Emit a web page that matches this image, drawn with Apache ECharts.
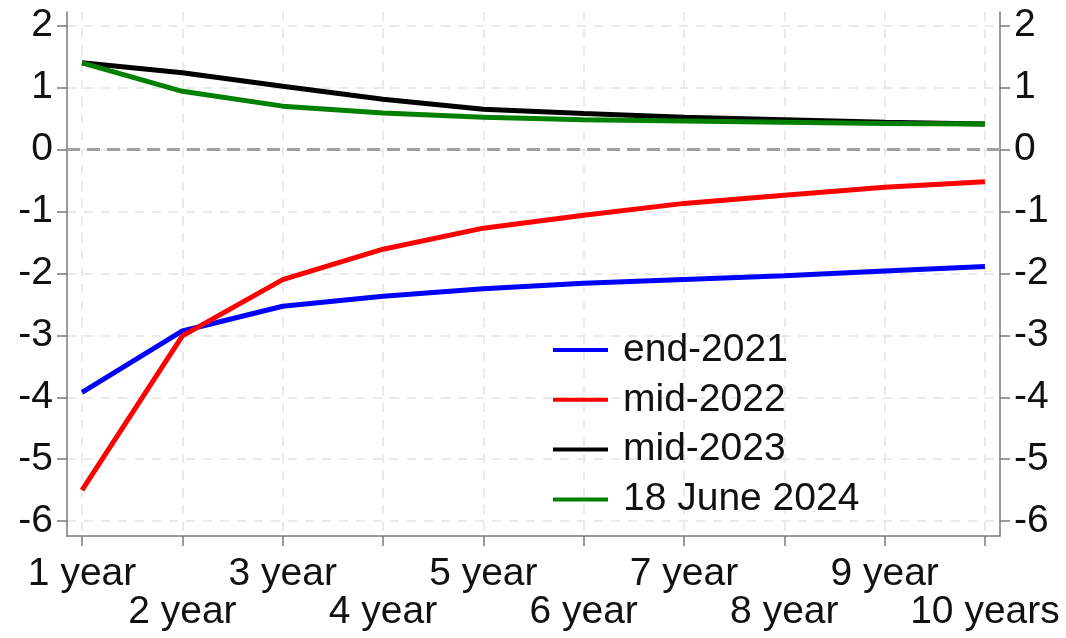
<!DOCTYPE html>
<html>
<head>
<meta charset="utf-8">
<script src="https://cdn.jsdelivr.net/npm/echarts@6/dist/echarts.min.js"></script>
<style>
  html, body { margin: 0; padding: 0; background: #fff; }
  #chart { width: 1066px; height: 638px; }
</style>
</head>
<body>
<div id="chart"></div>
<script>
// Maturities (years) and their axis labels
const maturities = [1, 2, 3, 4, 5, 6, 7, 8, 9, 10];
const maturityLabels = ['1 year', '2 year', '3 year', '4 year', '5 year',
                        '6 year', '7 year', '8 year', '9 year', '10 years'];
const yTicks = [-6, -5, -4, -3, -2, -1, 0, 1, 2];

// Curves, percentage points
const end2021 = [-3.92, -2.93, -2.53, -2.37, -2.25, -2.16, -2.10, -2.04, -1.96, -1.89];
const mid2022 = [-5.50, -3.01, -2.10, -1.61, -1.27, -1.06, -0.87, -0.74, -0.61, -0.52];
const mid2023 = [1.40, 1.24, 1.02, 0.81, 0.65, 0.58, 0.52, 0.48, 0.44, 0.41];
const june2024 = [1.40, 0.94, 0.70, 0.59, 0.52, 0.48, 0.46, 0.44, 0.42, 0.41];

const seriesNames = ['end-2021', 'mid-2022', 'mid-2023', '18 June 2024'];
const seriesColors = ['#0000ff', '#ff0000', '#000000', '#008000'];
const seriesData = [end2021, mid2022, mid2023, june2024];

const FONT = "'Liberation Sans', Arial, sans-serif";
const FS = 39;
const TXT = '#111111';
const AXIS_COL = '#7a7a7a';

const oddTicks = maturities.filter((m, i) => i % 2 === 0);
const evenTicks = maturities.filter((m, i) => i % 2 === 1);
const labelFor = v => maturityLabels[maturities.indexOf(Math.round(v))];

function xAxisDef(labelValues, margin, main) {
  return {
    type: 'value', gridIndex: 0, position: 'bottom',
    min: 0.85, max: 10.15,
    axisLine: { show: main, onZero: false, lineStyle: { color: AXIS_COL, width: 1.5 } },
    axisTick: { show: main, customValues: maturities, length: 10,
                lineStyle: { color: AXIS_COL, width: 1.5 } },
    splitLine: { show: main, lineStyle: { color: '#e3e3e3', width: 1.5, type: [9, 8] } },
    axisLabel: { customValues: labelValues, margin: margin, formatter: labelFor,
                 fontFamily: FONT, fontSize: FS, color: TXT }
  };
}

function yAxisDef(pos, grid) {
  return {
    type: 'value', position: pos, min: -6.24, max: 2.22,
    axisLine: { show: true, onZero: false, lineStyle: { color: AXIS_COL, width: 1.5 } },
    axisTick: { show: true, customValues: yTicks, length: 10,
                lineStyle: { color: AXIS_COL, width: 1.5 } },
    splitLine: { show: grid, lineStyle: { color: '#e3e3e3', width: 1.5, type: [9, 8] } },
    axisLabel: { customValues: yTicks, margin: 14, fontFamily: FONT, fontSize: FS, color: TXT }
  };
}

const series = seriesNames.map((name, k) => ({
  name: name,
  type: 'line',
  xAxisIndex: 0, yAxisIndex: 0,
  data: maturities.map((m, i) => [m, seriesData[k][i]]),
  showSymbol: false,
  lineStyle: { color: seriesColors[k], width: 5 },
  itemStyle: { color: seriesColors[k] },
  z: 3 + k,
  animation: false
}));

// Zero reference line
series[0].markLine = {
  silent: true, symbol: 'none', label: { show: false },
  lineStyle: { color: '#a0a0a0', width: 3, type: [13, 7] },
  data: [{ yAxis: 0 }],
  z: 1
};

const chart = echarts.init(document.getElementById('chart'), null, { renderer: 'canvas' });
chart.setOption({
  animation: false,
  backgroundColor: '#ffffff',
  grid: { left: 67, right: 66, top: 12, bottom: 102, containLabel: false, outerBoundsMode: 'none' },
  xAxis: [xAxisDef(oddTicks, 19, true), xAxisDef(evenTicks, 57, false)],
  yAxis: [yAxisDef('left', true), yAxisDef('right', false)],
  legend: {
    orient: 'vertical', left: 553, top: 330, padding: 0,
    icon: 'rect', itemWidth: 55, itemHeight: 4, itemGap: 9.8,
    textStyle: { fontFamily: FONT, fontSize: FS, color: TXT, lineHeight: 40,
                 padding: [0, 0, 0, 10] },
    data: seriesNames
  },
  series: series
});
</script>
</body>
</html>
